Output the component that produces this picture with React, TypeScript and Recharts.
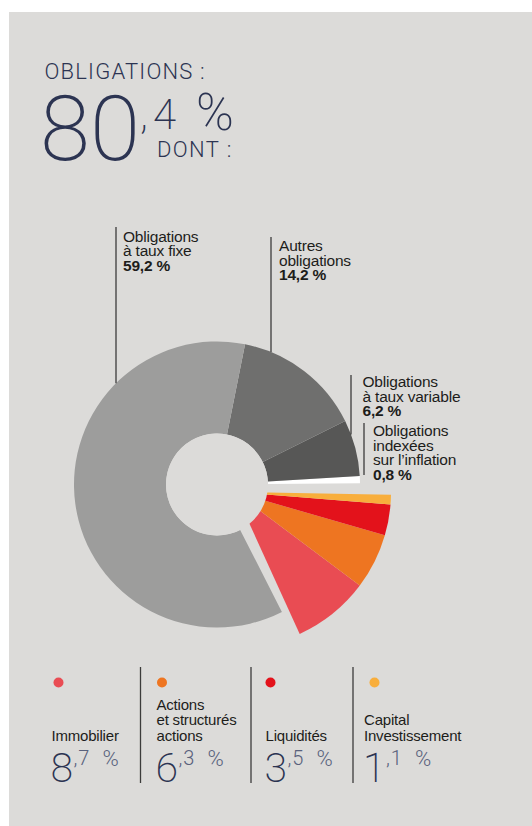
import { PieChart, Pie, Cell } from 'recharts';

// bond part of the portfolio (drawn as the grey donut)
const bondNames = [
  'Obligations\nindexées\nsur l’inflation',
  'Obligations\nà taux variable',
  'Autres\nobligations',
  'Obligations\nà taux fixe',
];
const bondShares = [0.8, 6.2, 14.2, 59.2];

// the rest of the portfolio (exploded coloured wedge + legend)
const otherNames = ['Immobilier', 'Actions\net structurés\nactions', 'Liquidités', 'Capital\nInvestissement'];
const otherShares = [8.7, 6.3, 3.5, 1.1];

const BG = '#dcdbd9';
const NAVY = '#2c3452';
const SOFT_NAVY = '#59617c';
const INK = '#1d1d1b';
const BOND_COLORS = ['#ffffff', '#575756', '#6f6f6e', '#9d9d9c'];
const OTHER_COLORS = ['#e94c53', '#ee7521', '#e3121b', '#f8ae3c'];

const LABEL_FONT = '"Liberation Sans", Arial, sans-serif';
const THIN_FONT = 'Roboto, "Liberation Sans", sans-serif';

const GREY = { cx: 217, cy: 484.5, inner: 51, outer: 143 };
const WEDGE = { cx: 235, cy: 492, outer: 156 };

// where the callouts of the grey slices sit (same order as bondShares)
const bondLabelLayout = [
  { lineX: 364, lineTop: 423, lineBottom: 475, textX: 373, baseline: 436 },
  { lineX: 351, lineTop: 375, lineBottom: 430, textX: 362.5, baseline: 387 },
  { lineX: 271, lineTop: 237, lineBottom: 350, textX: 279, baseline: 251 },
  { lineX: 116, lineTop: 227, lineBottom: 384, textX: 123, baseline: 241.5 },
];

const legendTextX = [51.5, 156.5, 265.5, 364];
const legendDotX = [58.5, 162, 270.5, 374.5];
const legendSeparators = [140.5, 251, 353];

const fmt = (v: number) => v.toFixed(1).replace('.', ',');

const bondData = bondNames.map((name, i) => ({ name, value: bondShares[i] }));
const otherData = otherNames.map((name, i) => ({ name, value: otherShares[i] }));
const bondTotal = bondShares.reduce((a, b) => a + b, 0);

function BondLabel(props: any) {
  const { index, value } = props;
  const lay = bondLabelLayout[index];
  const cx = props.cx ?? GREY.cx;
  const cy = props.cy ?? GREY.cy;
  const r = props.outerRadius ?? GREY.outer;
  const dx = lay.lineX - cx;
  const bottom = Math.abs(dx) < r ? cy - Math.sqrt(r * r - dx * dx) : lay.lineBottom;
  const lines = bondNames[index].split('\n');
  return (
    <g>
      <line x1={lay.lineX} x2={lay.lineX} y1={lay.lineTop} y2={bottom} stroke="#3c3c3b" strokeWidth={1.3} />
      <text x={lay.textX} y={lay.baseline} fontFamily={LABEL_FONT} fontSize={15.5} fill={INK} letterSpacing={-0.2}>
        {lines.map((l, i) => (
          <tspan key={i} x={lay.textX} y={lay.baseline + i * 14.6}>
            {l}
          </tspan>
        ))}
        <tspan x={lay.textX} y={lay.baseline + lines.length * 14.6} fontWeight="bold">
          {fmt(value)} %
        </tspan>
      </text>
    </g>
  );
}

function Header() {
  const [whole, dec] = fmt(bondTotal).split(',');
  return (
    <g fill={NAVY}>
      <text x={44.5} y={79.3} fontFamily={THIN_FONT} fontWeight={300} fontSize={22} letterSpacing={1.2}>
        OBLIGATIONS :
      </text>
      <text x={40} y={160} fontFamily={THIN_FONT} fontWeight={200} fontSize={91}>
        {whole}
      </text>
      <text x={140} y={129} fontFamily={THIN_FONT} fontWeight={200} fontSize={42} letterSpacing={5}>
        ,{dec}
      </text>
      <text x={196} y={129.5} fontFamily={THIN_FONT} fontWeight={200} fontSize={51}>
        %
      </text>
      <text x={157} y={156.7} fontFamily={THIN_FONT} fontWeight={300} fontSize={22} letterSpacing={1.4}>
        DONT :
      </text>
    </g>
  );
}

function BottomLegend() {
  return (
    <g>
      {legendSeparators.map((x) => (
        <line key={x} x1={x} x2={x} y1={667} y2={783} stroke="#3c3c3b" strokeWidth={1.3} />
      ))}
      {otherNames.map((name, i) => {
        const lines = name.split('\n');
        const x = legendTextX[i];
        const [whole, dec] = fmt(otherShares[i]).split(',');
        return (
          <g key={name}>
            <circle cx={legendDotX[i]} cy={682.5} r={5} fill={OTHER_COLORS[i]} />
            <text fontFamily={LABEL_FONT} fontSize={15} fill={INK} letterSpacing={-0.2}>
              {lines.map((l, j) => (
                <tspan key={j} x={x} y={740.7 - (lines.length - 1 - j) * 15.3}>
                  {l}
                </tspan>
              ))}
            </text>
            <text x={x - 1} y={782} fontFamily={THIN_FONT} fontWeight={200} fontSize={41} fill={NAVY}>
              {whole}
            </text>
            <text x={x + 22} y={765} fontFamily={THIN_FONT} fontWeight={300} fontSize={20} fill={SOFT_NAVY} letterSpacing={1}>
              ,{dec}
            </text>
            <text x={x + 51} y={765.5} fontFamily={THIN_FONT} fontWeight={300} fontSize={22} fill={SOFT_NAVY}>
              %
            </text>
          </g>
        );
      })}
    </g>
  );
}

export default function App() {
  return (
    <div style={{ position: 'absolute', left: 0, top: 0, width: 532, height: 826, background: '#ffffff', overflow: 'hidden' }}>
      <div style={{ position: 'absolute', left: 9, top: 12, width: 523, height: 814, background: BG }} />
      <div style={{ position: 'absolute', left: 0, top: 0 }}>
        <PieChart width={532} height={826} margin={{ top: 0, right: 0, bottom: 0, left: 0 }}>
          <Pie
            data={otherData}
            dataKey="value"
            cx={WEDGE.cx}
            cy={WEDGE.cy}
            innerRadius={0}
            outerRadius={WEDGE.outer}
            startAngle={-65.5}
            endAngle={-1}
            stroke="none"
            isAnimationActive={false}
          >
            {otherData.map((d, i) => (
              <Cell key={d.name} fill={OTHER_COLORS[i]} />
            ))}
          </Pie>
          <Pie
            data={bondData}
            dataKey="value"
            cx={GREY.cx}
            cy={GREY.cy}
            innerRadius={GREY.inner}
            outerRadius={GREY.outer}
            startAngle={0.5}
            endAngle={297}
            stroke="none"
            isAnimationActive={false}
            label={BondLabel}
            labelLine={false}
          >
            {bondData.map((d, i) => (
              <Cell key={d.name} fill={BOND_COLORS[i]} />
            ))}
          </Pie>
          {/* hole shared by the donut and the exploded wedge */}
          <Pie
            data={[{ name: 'hole', value: 1 }]}
            dataKey="value"
            cx={GREY.cx}
            cy={GREY.cy}
            innerRadius={0}
            outerRadius={GREY.inner}
            startAngle={0}
            endAngle={360}
            fill={BG}
            stroke="none"
            isAnimationActive={false}
          />
        </PieChart>
      </div>
      <svg width={532} height={826} style={{ position: 'absolute', left: 0, top: 0, pointerEvents: 'none' }}>
        <Header />
        <BottomLegend />
      </svg>
    </div>
  );
}
